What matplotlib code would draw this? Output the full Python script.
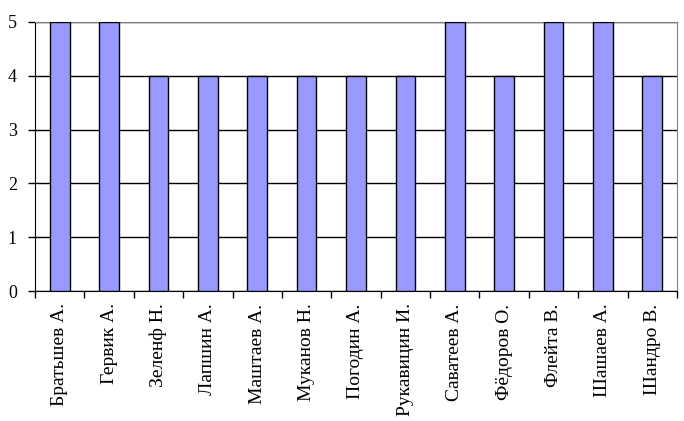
import matplotlib
matplotlib.use("Agg")
import matplotlib.pyplot as plt
import numpy as np

names = ["Братьшев А.", "Гервик А.", "Зеленф Н.", "Лапшин А.", "Маштаев А.",
         "Муканов Н.", "Погодин А.", "Рукавицин И.", "Саватеев А.", "Фёдоров О.",
         "Флейта В.", "Шашаев А.", "Шандро В."]
scores = [5, 5, 4, 4, 4, 4, 4, 4, 5, 4, 5, 5, 4]
yticks = [0, 1, 2, 3, 4, 5]

plt.rcParams['font.family'] = ['Liberation Serif', 'DejaVu Serif']
fig = plt.figure(figsize=(6.84, 4.21), dpi=100)
ax = fig.add_axes([35/684, 1-291/421, (677-35)/684, (291-22)/421])

x = np.arange(len(names))
ax.set_axisbelow(True)
ax.yaxis.grid(True, color='black', linewidth=1)
ax.bar(x, scores, width=0.4, color='#9999FF', edgecolor='black', linewidth=1, zorder=3)
ax.set_xlim(-0.5, len(names)-0.5)
ax.set_ylim(0, 5)
ax.set_yticks(yticks)
ax.set_yticklabels([str(v) for v in yticks], fontsize=13)
ax.set_xticks(np.arange(len(names)+1) - 0.5)
ax.set_xticklabels([])
ax.set_xticks(x, minor=True)
ax.set_xticklabels(names, minor=True, rotation=90, fontsize=14)
ax.tick_params(axis='x', which='minor', length=0, pad=9)
ax.tick_params(axis='x', which='major', direction='out', length=5, width=1)
ax.tick_params(axis='y', direction='out', length=5, width=1, pad=8)
ax.spines['left'].set_color('black')
ax.spines['bottom'].set_color('black')
ax.spines['top'].set_color('#808080')
ax.spines['right'].set_color('#808080')
fig.savefig("out.png", dpi=100)
